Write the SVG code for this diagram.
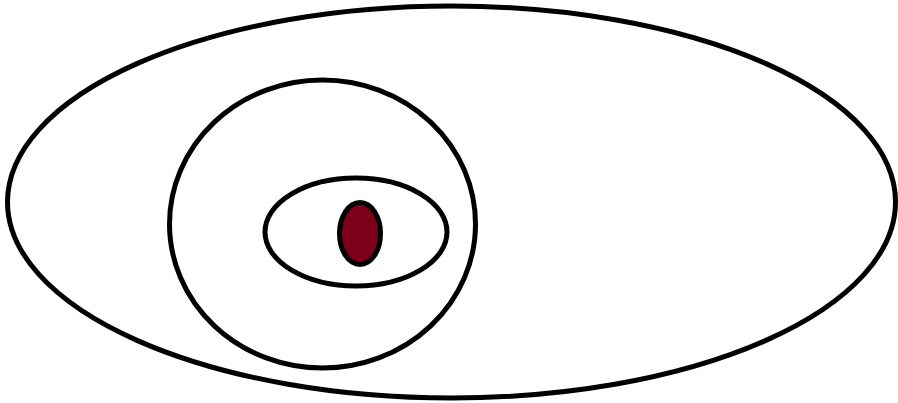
<svg xmlns="http://www.w3.org/2000/svg" width="898" height="403" viewBox="0 0 898 403">
<style>
.r{fill:none;stroke:#000;stroke-width:5}
</style>
<rect width="898" height="403" fill="#fff"/>
<g id="outer"><ellipse class="r" cx="451.5" cy="202" rx="444" ry="196"/></g>
<g id="circle"><ellipse class="r" cx="322.5" cy="224" rx="153" ry="144"/></g>
<g id="inner"><ellipse class="r" cx="356" cy="232" rx="91" ry="54"/></g>
<g id="core"><ellipse cx="360" cy="233.5" rx="20.5" ry="31" fill="#7d0019" stroke="#000" stroke-width="5"/></g>
</svg>
